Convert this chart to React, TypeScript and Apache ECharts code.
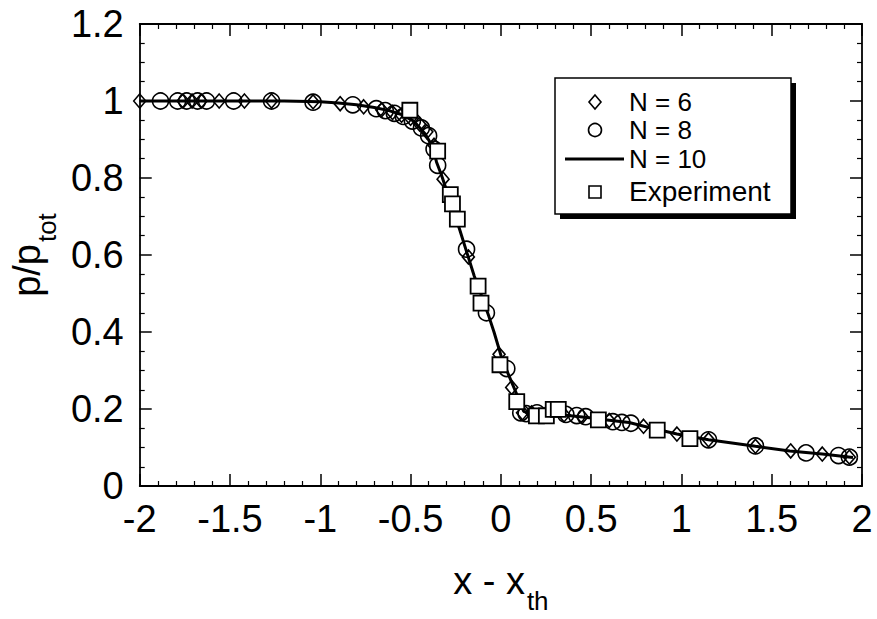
import React, { useEffect, useRef } from 'react';
import * as echarts from 'echarts';

// N = 10 solution (solid line)
const n10X = [-2, -1.5, -1.2, -1.0, -0.9, -0.8, -0.7, -0.62, -0.55, -0.48, -0.42, -0.38, -0.356, -0.33, -0.3, -0.27, -0.23, -0.186, -0.148, -0.104, -0.066, -0.038, 0.005, 0.055, 0.099, 0.126, 0.15, 0.2, 0.3, 0.36, 0.49, 0.6, 0.71, 0.82, 0.975, 1.15, 1.41, 1.6, 1.78, 1.95];
const n10Y = [1.0, 1.0, 1.0, 0.998, 0.995, 0.99, 0.983, 0.975, 0.965, 0.947, 0.915, 0.883, 0.841, 0.809, 0.767, 0.725, 0.669, 0.603, 0.546, 0.49, 0.44, 0.4, 0.332, 0.275, 0.226, 0.194, 0.19, 0.19, 0.188, 0.184, 0.177, 0.171, 0.165, 0.152, 0.135, 0.12, 0.103, 0.091, 0.083, 0.074];

// N = 6 (diamonds)
const n6X = [-2.0, -1.76, -1.71, -1.66, -1.56, -1.42, -1.27, -1.04, -0.89, -0.76, -0.66, -0.6, -0.55, -0.5, -0.45, -0.41, -0.37, -0.32, -0.18, -0.01, 0.06, 0.12, 0.17, 0.25, 0.35, 0.45, 0.6, 0.79, 0.975, 1.15, 1.41, 1.605, 1.78, 1.93];
const n6Y = [1.0, 1.0, 1.0, 1.0, 1.0, 1.0, 1.0, 0.998, 0.993, 0.985, 0.977, 0.97, 0.963, 0.955, 0.94, 0.92, 0.885, 0.797, 0.595, 0.342, 0.256, 0.19, 0.19, 0.188, 0.185, 0.18, 0.17, 0.155, 0.135, 0.12, 0.103, 0.091, 0.083, 0.075];

// N = 8 (circles)
const n8X = [-1.885, -1.79, -1.74, -1.68, -1.63, -1.48, -1.27, -1.04, -0.82, -0.69, -0.64, -0.59, -0.54, -0.49, -0.44, -0.4, -0.37, -0.35, -0.19, -0.08, 0.033, 0.11, 0.14, 0.2, 0.36, 0.42, 0.47, 0.62, 0.67, 0.72, 1.15, 1.41, 1.69, 1.87, 1.93];
const n8Y = [1.0, 1.0, 1.0, 1.0, 1.0, 1.0, 1.0, 0.997, 0.99, 0.98, 0.975, 0.968, 0.96, 0.948, 0.93, 0.91, 0.875, 0.833, 0.615, 0.45, 0.305, 0.19, 0.188, 0.19, 0.186, 0.183, 0.18, 0.167, 0.165, 0.163, 0.12, 0.104, 0.086, 0.079, 0.075];

// Experiment (squares)
const expX = [-0.504, -0.35, -0.28, -0.268, -0.241, -0.126, -0.11, -0.005, 0.088, 0.197, 0.252, 0.29, 0.318, 0.54, 0.866, 1.047];
const expY = [0.976, 0.87, 0.757, 0.733, 0.693, 0.519, 0.475, 0.315, 0.219, 0.182, 0.182, 0.199, 0.199, 0.172, 0.145, 0.123];

const legendNames = ['N = 6', 'N = 8', 'N = 10', 'Experiment'];

const FONT = '"Liberation Sans", Arial, Helvetica, sans-serif';

const zip = (xs: number[], ys: number[]) => xs.map((x, i) => [x, ys[i]]);

export default function App() {
  const ref = useRef<HTMLDivElement>(null);
  useEffect(() => {
    const chart = echarts.init(ref.current!, null, { renderer: 'svg' });
    const axisCommon = {
      type: 'value' as const,
      axisLine: { show: true, onZero: false, lineStyle: { color: '#000', width: 1.8 } },
      axisTick: { show: true, inside: true, length: 12, lineStyle: { color: '#000', width: 1.5 } },
      minorTick: { show: true, length: 5, lineStyle: { color: '#000', width: 1.2 } },
      splitLine: { show: false },
    };
    const legendText = (text: string, y: number, size: number) => ({
      type: 'text', x: 629, y,
      style: { text, font: `${size}px ${FONT}`, fill: '#000', textVerticalAlign: 'middle' },
      z: 102,
    });
    const option: any = {
      animation: false,
      backgroundColor: '#fff',
      grid: { left: 132, right: 15, top: 24, bottom: 107 },
      xAxis: [
        {
          ...axisCommon,
          min: -2, max: 2, interval: 0.5,
          minorTick: { ...axisCommon.minorTick, splitNumber: 5 },
          axisLabel: { color: '#000', fontSize: 38, fontFamily: FONT, margin: 14 },
          name: '{a|x - x}{b|th}',
          nameLocation: 'middle',
          nameGap: 70,
          nameTextStyle: {
            rich: {
              a: { fontSize: 38, fontFamily: FONT, color: '#000', verticalAlign: 'bottom', lineHeight: 44 },
              b: { fontSize: 26, fontFamily: FONT, color: '#000', verticalAlign: 'bottom', padding: [0, 0, -14, 2], lineHeight: 44 },
            },
          },
        },
        {
          ...axisCommon,
          position: 'top',
          min: -2, max: 2, interval: 0.5,
          minorTick: { ...axisCommon.minorTick, splitNumber: 5 },
          axisLabel: { show: false },
        },
      ],
      yAxis: [
        {
          ...axisCommon,
          min: 0, max: 1.2, interval: 0.2,
          minorTick: { ...axisCommon.minorTick, splitNumber: 4 },
          axisLabel: { color: '#000', fontSize: 38, fontFamily: FONT, margin: 16 },
          name: '{a|p/p}{b|tot}',
          nameLocation: 'middle',
          nameGap: 88,
          nameRotate: 90,
          nameTextStyle: {
            rich: {
              a: { fontSize: 38, fontFamily: FONT, color: '#000', verticalAlign: 'bottom', lineHeight: 44 },
              b: { fontSize: 26, fontFamily: FONT, color: '#000', verticalAlign: 'bottom', padding: [0, 0, -14, 2], lineHeight: 44 },
            },
          },
        },
        {
          ...axisCommon,
          position: 'right',
          min: 0, max: 1.2, interval: 0.2,
          minorTick: { ...axisCommon.minorTick, splitNumber: 4 },
          axisLabel: { show: false },
        },
      ],
      series: [
        {
          name: legendNames[2],
          type: 'line',
          data: zip(n10X, n10Y),
          symbol: 'none',
          lineStyle: { color: '#000', width: 3 },
          z: 2,
        },
        {
          name: legendNames[1],
          type: 'scatter',
          data: zip(n8X, n8Y),
          symbol: 'circle',
          symbolSize: 16,
          itemStyle: { color: 'rgba(0,0,0,0)', borderColor: '#000', borderWidth: 1.6, opacity: 1 },
          emphasis: { disabled: true },
          z: 3,
        },
        {
          name: legendNames[0],
          type: 'scatter',
          data: zip(n6X, n6Y),
          symbol: 'diamond',
          symbolSize: [12, 14],
          itemStyle: { color: 'rgba(0,0,0,0)', borderColor: '#000', borderWidth: 1.6, opacity: 1 },
          emphasis: { disabled: true },
          z: 4,
        },
        {
          name: legendNames[3],
          type: 'scatter',
          data: zip(expX, expY),
          symbol: 'rect',
          symbolSize: 15,
          itemStyle: { color: '#ffffff', borderColor: '#000000', borderWidth: 1.8, opacity: 1 },
          emphasis: { disabled: true },
          z: 5,
        },
      ],
      graphic: [
        { type: 'rect', shape: { x: 560, y: 83, width: 236, height: 136 }, style: { fill: '#000' }, z: 100 },
        { type: 'rect', shape: { x: 555, y: 78, width: 236, height: 136 }, style: { fill: '#fff', stroke: '#000', lineWidth: 1.5 }, z: 101 },
        { type: 'polygon', shape: { points: [[595, 95], [601, 102], [595, 109], [589, 102]] }, style: { fill: 'none', stroke: '#000', lineWidth: 1.6 }, z: 102 },
        { type: 'circle', shape: { cx: 595, cy: 130, r: 6.5 }, style: { fill: 'none', stroke: '#000', lineWidth: 1.6 }, z: 102 },
        { type: 'line', shape: { x1: 565, y1: 159, x2: 624, y2: 159 }, style: { stroke: '#000', lineWidth: 3 }, z: 102 },
        { type: 'rect', shape: { x: 589, y: 186, width: 12, height: 12 }, style: { fill: '#fff', stroke: '#000', lineWidth: 1.6 }, z: 102 },
        legendText(legendNames[0], 102, 26),
        legendText(legendNames[1], 130, 26),
        legendText(legendNames[2], 159, 26),
        legendText(legendNames[3], 191, 28),
      ],
    };
    chart.setOption(option);
    return () => chart.dispose();
  }, []);
  return (
    <div
      ref={ref}
      style={{ position: 'fixed', left: 0, top: 0, width: 877, height: 619, background: '#fff' }}
    />
  );
}
